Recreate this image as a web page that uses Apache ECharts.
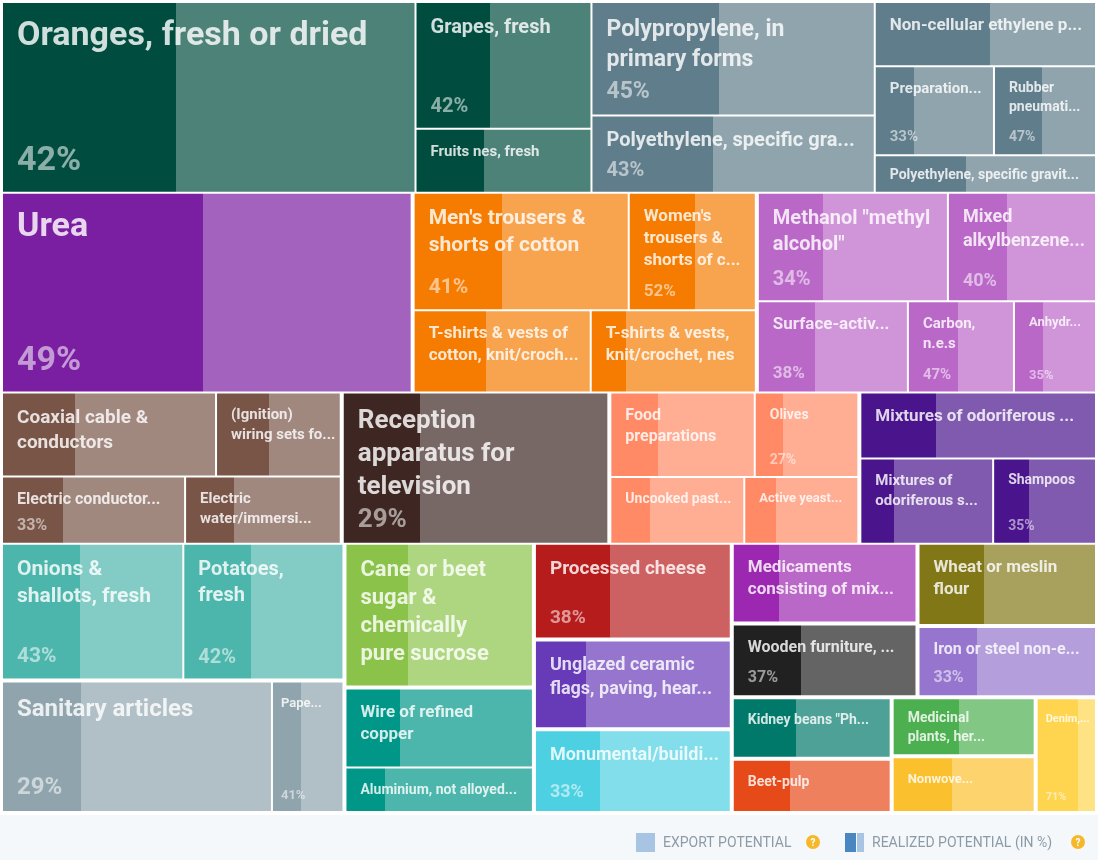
<!DOCTYPE html>
<html>
<head>
<meta charset="utf-8">
<title>Export potential treemap</title>
<script src="https://cdn.jsdelivr.net/npm/echarts@6.0.0/dist/echarts.min.js"></script>
<style>
html, body { margin: 0; padding: 0; background: #ffffff; }
#chart { width: 1098px; height: 860px; }
</style>
</head>
<body>
<div id="chart"></div>
<script>
// ======================= DATA =======================
const productNames = [
  "Oranges, fresh or dried", "Grapes, fresh", "Fruits nes, fresh",
  "Polypropylene, in\nprimary forms", "Polyethylene, specific gra...", "Non-cellular ethylene p...",
  "Preparation...", "Rubber\npneumati...", "Polyethylene, specific gravit...",
  "Urea",
  "Men's trousers &\nshorts of cotton", "Women's\ntrousers &\nshorts of c...",
  "T-shirts & vests of\ncotton, knit/croch...", "T-shirts & vests,\nknit/crochet, nes",
  "Methanol \"methyl\nalcohol\"", "Mixed\nalkylbenzene...", "Surface-activ...", "Carbon,\nn.e.s", "Anhydr...",
  "Coaxial cable &\nconductors", "(Ignition)\nwiring sets for ...", "Electric conductors <=...", "Electric\nwater/immersi...",
  "Reception\napparatus for\ntelevision",
  "Food\npreparations", "Olives", "Uncooked past...", "Active yeast...",
  "Mixtures of odoriferous ...", "Mixtures of\nodoriferous s...", "Shampoos",
  "Onions &\nshallots, fresh", "Potatoes,\nfresh",
  "Sanitary articles", "Pape...",
  "Cane or beet\nsugar &\nchemically\npure sucrose",
  "Wire of refined\ncopper", "Aluminium, not alloyed...",
  "Processed cheese", "Unglazed ceramic\nflags, paving, hear...", "Monumental/buildi...",
  "Medicaments\nconsisting of mix...", "Wheat or meslin\nflour", "Wooden furniture, ...", "Iron or steel non-e...",
  "Kidney beans \"Ph...", "Beet-pulp", "Medicinal\nplants, her...", "Nonwove...", "Denim, >=85% cotton, >=20..."
];
const exportPotential = [
  78208, 22125, 11151, 31866, 21714, 14105, 10502, 8989, 8246,
  81391, 25155, 14859, 14514, 13530, 20520, 15984, 13650, 9646, 7462,
  17889, 10425, 12261, 10425, 40050, 12180, 8736, 8910, 7590, 15510, 11305, 8755,
  24660, 21783, 35376, 9372, 26928, 14960, 8415, 18816, 17444, 16268,
  14742, 14661, 13464, 12600, 9638, 8532, 8343, 8019, 6970
];
const realizedPct = [
  42, 42, 39, 45, 43, 52, 33, 47, 41,
  49, 41, 52, 41, 21, 34, 40, 38, 47, 35,
  34, 42, 33, 31, 29, 33, 27, 29, 27, 32, 25, 35,
  43, 42, 29, 41, 33, 29, 21, 38, 26, 33,
  25, 37, 37, 33, 40, 36, 47, 42, 71
];
const productGroup = [
  'fruit', 'fruit', 'fruit', 'plastic', 'plastic', 'plastic', 'plastic', 'plastic', 'plastic',
  'fert', 'apparel', 'apparel', 'apparel', 'apparel', 'chem', 'chem', 'chem', 'chem', 'chem',
  'cable', 'cable', 'cable', 'cable', 'tv', 'food', 'food', 'food', 'food', 'cosm', 'cosm', 'cosm',
  'veg', 'veg', 'paper', 'paper', 'sugar', 'copper', 'copper', 'cheese', 'ceramic', 'stone',
  'pharma', 'flour', 'furniture', 'iron', 'beans', 'pulp', 'herbs', 'nonwoven', 'denim'
];
const legendLabels = ['EXPORT POTENTIAL', 'REALIZED POTENTIAL (IN %)'];

// ======================= STRUCTURE (nesting of products) =======================
function G(group, items) { return { kind: 'group', group: group, items: items }; }
function V(items) { return { kind: 'inner', items: items }; }
function X(items) { return { kind: 'cross', items: items }; }

// each band is a horizontal strip; a band may hold several blocks side by side
const bands = [
  [ { ratio: 1.3, items: [G('fruit', [0, 1, 2])] },
    { ratio: 2.5, items: [G('plastic', [3, 4, V([V([5, V([6, 7])]), 8])])] } ],
  [ { ratio: 2.3, items: [9, G('apparel', [V([10, 11]), V([12, 13])]), G('chem', [V([14, 15]), V([16, 17, 18])])] } ],
  [ { ratio: 3.0, items: [G('cable', [V([19, 20]), V([21, 22])]), 23, G('food', [V([24, 25]), V([26, 27])]), G('cosm', [28, V([29, 30])])] } ],
  [ { ratio: 2.1, items: [G('veg', [31, 32]), G('paper', [33, 34]), 35, G('copper', [36, 37]), 38, 39, 40,
      X([X([X([41, 43]), X([42, 44])]), X([X([45, 46]), X([47, 48, 49])])])] } ]
];

// ======================= STYLE =======================
const groupColors = {
  fruit: ['#004D40', '#4D8279'], plastic: ['#607D8B', '#90A4AE'], fert: ['#7B1FA2', '#A362BE'],
  apparel: ['#F57C00', '#F8A34D'], chem: ['#BA68C8', '#CF95D8'], cable: ['#795548', '#A1887F'],
  tv: ['#3E2723', '#786865'], food: ['#FF8A65', '#FFAD93'], cosm: ['#4A148C', '#805AAE'],
  veg: ['#4DB6AC', '#82CCC5'], paper: ['#90A4AE', '#B1BFC6'], sugar: ['#8BC34A', '#AED580'],
  copper: ['#009688', '#4DB6AC'], cheese: ['#B71C1C', '#CD6060'], ceramic: ['#673AB7', '#9575CD'],
  stone: ['#4DD0E1', '#82DEEA'], pharma: ['#9C27B0', '#BA68C8'], flour: ['#827717', '#A8A05D'],
  furniture: ['#212121', '#646464'], iron: ['#9575CD', '#B59EDC'], beans: ['#00796B', '#4DA197'],
  pulp: ['#E64A19', '#EE805E'], herbs: ['#4CAF50', '#82C784'], nonwoven: ['#FBC02D', '#FCD36C'],
  denim: ['#FFD54F', '#FFE284']
};
const BOX = { left: 2, top: 2, width: 1094, height: 810 };
const FONT = 'Roboto';

const chart = echarts.init(document.getElementById('chart'), null, { renderer: 'canvas' });

function specSum(s) {
  return typeof s === 'number' ? exportPotential[s] : s.items.reduce(function (a, c) { return a + specSum(c); }, 0);
}
function blockSum(b) { return b.items.reduce(function (x, s) { return x + specSum(s); }, 0); }

function buildLeaf(i, labels) {
  const c = groupColors[productGroup[i]];
  const p = realizedPct[i] / 100;
  const item = {
    name: productNames[i],
    value: exportPotential[i],
    itemStyle: {
      borderWidth: 1, borderColor: '#ffffff', gapWidth: 0,
      color: new echarts.graphic.LinearGradient(0, 0, 1, 0, [
        { offset: 0, color: c[0] }, { offset: p, color: c[0] },
        { offset: p, color: c[1] }, { offset: 1, color: c[1] }
      ])
    }
  };
  if (labels && labels[i]) item.label = labels[i];
  return item;
}

function buildNode(s, labels) {
  if (typeof s === 'number') return buildLeaf(s, labels);
  return {
    name: s.group || '',
    value: specSum(s),
    children: s.items.map(function (c) { return buildNode(c, labels); }),
    itemStyle: { gapWidth: s.kind === 'cross' ? 2 : 0, borderWidth: 0, borderColor: '#ffffff' }
  };
}

function legendGraphic() {
  const txt = { fill: '#8D9BA7', font: '14px ' + FONT, verticalAlign: 'middle' };
  return [
    { type: 'rect', silent: true, shape: { x: 0, y: 815, width: 1098, height: 45 }, style: { fill: '#F5F8FB' } },
    { type: 'rect', silent: true, shape: { x: 636, y: 833, width: 19, height: 19 }, style: { fill: '#A7C5E2' } },
    { type: 'text', silent: true, style: Object.assign({ x: 663, y: 843, text: legendLabels[0] }, txt) },
    { type: 'circle', silent: true, shape: { cx: 813, cy: 842, r: 7 }, style: { fill: '#F6B829' } },
    { type: 'text', silent: true, style: { x: 813, y: 843, text: '?', fill: '#ffffff', font: 'bold 10px ' + FONT, align: 'center', verticalAlign: 'middle' } },
    { type: 'rect', silent: true, shape: { x: 845, y: 833, width: 11, height: 19 }, style: { fill: '#4A86C0' } },
    { type: 'rect', silent: true, shape: { x: 857, y: 833, width: 7, height: 19 }, style: { fill: '#A7C5E2' } },
    { type: 'text', silent: true, style: Object.assign({ x: 872, y: 843, text: legendLabels[1] }, txt) },
    { type: 'circle', silent: true, shape: { cx: 1078, cy: 842, r: 7 }, style: { fill: '#F6B829' } },
    { type: 'text', silent: true, style: { x: 1078, y: 843, text: '?', fill: '#ffffff', font: 'bold 10px ' + FONT, align: 'center', verticalAlign: 'middle' } }
  ];
}

function buildOption(labels) {
  const bandSums = bands.map(function (band) { return band.reduce(function (a, b) { return a + blockSum(b); }, 0); });
  const total = bandSums.reduce(function (a, b) { return a + b; }, 0);
  const series = [];
  let y = BOX.top;
  bands.forEach(function (band, k) {
    const h = BOX.height * bandSums[k] / total;
    let x = BOX.left;
    band.forEach(function (b, j) {
      const w = BOX.width * blockSum(b) / bandSums[k];
      series.push({
        type: 'treemap', id: 'band' + k + '_' + j,
        left: x, top: y, width: w, height: h,
        squareRatio: b.ratio, sort: false, roam: false, nodeClick: false, silent: true,
        breadcrumb: { show: false }, visibleMin: 0, animation: false,
        label: { show: !!labels, position: 'insideTopLeft', distance: 0, overflow: 'truncate', ellipsis: '...' },
        upperLabel: { show: false },
        itemStyle: { borderWidth: 0, gapWidth: 0, borderColor: '#ffffff' },
        levels: [{ itemStyle: { borderWidth: 0, gapWidth: 2, borderColor: '#ffffff' } }],
        emphasis: { disabled: true },
        data: b.items.map(function (s) { return buildNode(s, labels); })
      });
      x += w;
    });
    y += h;
  });
  return { backgroundColor: '#ffffff', animation: false, series: series, graphic: legendGraphic() };
}

function makeLabel(i, w, h) {
  let fs = 0.11 * Math.sqrt(Math.max(w * h, 1)) + 4;
  fs = Math.min(34, Math.max(12, fs));
  fs = Math.min(fs, Math.max(11, w * 0.18));
  fs = Math.round(fs);
  const lh = Math.round(fs * 1.2 + 2);
  const padL = w < 75 ? 8 : 14;
  const padB = Math.floor(4 + fs * 0.1);
  let lines = productNames[i].split('\n');
  const maxLines = Math.max(1, Math.floor((h - padB - 2) / lh));
  if (lines.length > maxLines) {
    lines = lines.slice(0, maxLines);
    const last = lines[maxLines - 1];
    if (last.slice(-3) !== '...') lines[maxLines - 1] = last + '...';
  }
  const n = lines.length;
  const gap = fs >= 20 ? 0 : 6;
  const avail = h - padB - (n + 1) * lh;   // room for top padding + spacer
  const need = Math.max(7 + (n + 1) * lh + padB + gap, 45 + n * 20);
  const showPct = h >= need;
  let padT = Math.max(1, Math.min(12, Math.floor(h - padB - n * lh - 1)));
  let str = lines.map(function (l) { return '{n|' + l + '}'; }).join('\n');
  const rich = {
    n: { fontSize: fs, lineHeight: lh, fontWeight: 'bold', fontFamily: FONT, color: 'rgba(255,255,255,0.82)' },
    p: { fontSize: fs, lineHeight: lh, fontWeight: 'bold', fontFamily: FONT, color: 'rgba(255,255,255,0.55)' }
  };
  if (showPct) {
    padT = Math.floor(Math.min(12, avail - gap));
    const sp = Math.floor(avail - padT - 1);
    if (sp > 1) {
      rich.s = { fontSize: 1, lineHeight: sp, height: sp };
      str += '\n{s| }';
    }
    str += '\n{p|' + realizedPct[i] + '%}';
  }
  return {
    show: true, position: 'insideTopLeft', distance: 0,
    padding: [padT, 3, padB, padL],
    formatter: function () { return str; },
    rich: rich
  };
}

function computeLabels() {
  const layouts = {};
  try {
    chart.getModel().eachSeriesByType('treemap', function (sm) {
      const tree = sm.getData().tree;
      tree.root.eachNode(function (nd) {
        if (nd.children && nd.children.length) return;
        const lay = nd.getLayout();
        if (lay) layouts[nd.name] = lay;
      });
    });
  } catch (e) { /* fall back to default sizes */ }
  const labels = {};
  productNames.forEach(function (nm, i) {
    const lay = layouts[nm];
    labels[i] = makeLabel(i, lay ? lay.width - 2 : 120, lay ? lay.height - 2 : 60);
  });
  return labels;
}

chart.setOption(buildOption(null));
const labelInfo = computeLabels();
chart.setOption(buildOption(labelInfo), true);
</script>
</body>
</html>
